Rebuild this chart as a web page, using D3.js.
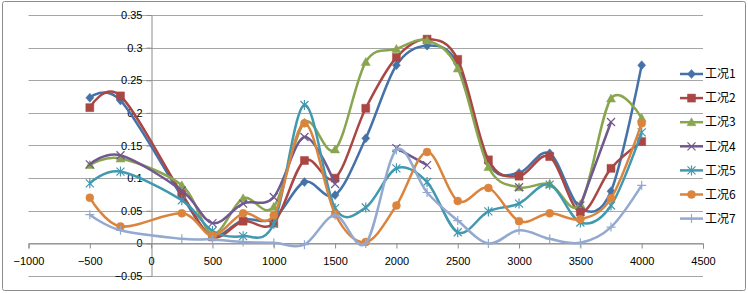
<!DOCTYPE html>
<html>
<head>
<meta charset="utf-8">
<script src="https://cdn.jsdelivr.net/npm/d3@7"></script>
<style>
  body { margin: 0; background: #fff; }
  text { font-family: "Liberation Sans", Arial, sans-serif; font-size: 11px; fill: #000; }
  .legend text { font-family: "Noto Sans CJK SC", sans-serif; font-size: 12px; }
</style>
</head>
<body>
<div id="chart"></div>
<script>
// x positions of the measuring points
const xs = [-500, -250, 250, 500, 750, 1000, 1250, 1500, 1750, 2000, 2250, 2500, 2750, 3000, 3250, 3500, 3750, 4000];

// values per series (null = no data)
const s1 = [0.223, 0.219, 0.072, 0.012, 0.036, 0.038, 0.094, 0.074, 0.161, 0.273, 0.303, 0.275, 0.123, 0.108, 0.138, 0.054, 0.080, 0.273];
const s2 = [0.208, 0.226, 0.076, 0.010, 0.034, 0.031, 0.127, 0.100, 0.207, 0.285, 0.313, 0.282, 0.128, 0.103, 0.133, 0.048, 0.115, 0.156];
const s3 = [0.120, 0.130, 0.089, 0.015, 0.069, 0.056, 0.185, 0.144, 0.278, 0.298, 0.311, 0.268, 0.117, 0.086, 0.091, 0.060, 0.222, 0.192];
const s4 = [0.121, 0.135, 0.081, 0.031, 0.061, 0.071, 0.163, 0.091, null, 0.146, 0.120, null, null, 0.086, null, 0.058, 0.186, null];
const s5 = [0.092, 0.110, 0.066, 0.019, 0.011, 0.030, 0.212, 0.054, 0.055, 0.115, 0.094, 0.017, 0.049, 0.061, 0.090, 0.032, 0.058, 0.170];
const s6 = [0.070, 0.026, 0.046, 0.012, 0.046, 0.043, 0.184, 0.045, 0.002, 0.058, 0.140, 0.065, 0.085, 0.034, 0.046, 0.037, 0.069, 0.184];
const s7 = [0.044, 0.020, 0.007, 0.006, 0.002, 0.001, -0.002, 0.043, 0.000, 0.143, 0.078, 0.035, 0.000, 0.020, 0.007, 0.001, 0.025, 0.089];

const names = ["工况1", "工况2", "工况3", "工况4", "工况5", "工况6", "工况7"];
const values = [s1, s2, s3, s4, s5, s6, s7];
const colors = ["#4572A7", "#AA4643", "#89A54E", "#71588F", "#4198AF", "#DB843D", "#93A9CF"];
const markers = ["diamond", "square", "triangle", "x", "star", "circle", "plus"];

const xTicks = [-1000, -500, 0, 500, 1000, 1500, 2000, 2500, 3000, 3500, 4000, 4500];
const yTicks = [-0.05, 0, 0.05, 0.1, 0.15, 0.2, 0.25, 0.3, 0.35];

const W = 748, H = 293;
const svg = d3.select("#chart").append("svg").attr("width", W).attr("height", H);

// outer chart border
svg.append("rect").attr("x", 2.5).attr("y", 1.5).attr("width", 743).attr("height", 289)
  .attr("fill", "#fff").attr("stroke", "#8c8c8c").attr("rx", 2);

const x = d3.scaleLinear().domain([-1000, 4500]).range([28.5, 703]);
const y = d3.scaleLinear().domain([-0.05, 0.35]).range([276, 15]);

// gridlines
svg.append("g").selectAll("line").data(yTicks).join("line")
  .attr("x1", x(-1000)).attr("x2", x(4500))
  .attr("y1", d => Math.round(y(d)) + 0.5).attr("y2", d => Math.round(y(d)) + 0.5)
  .attr("stroke", "#a6a6a6").attr("stroke-width", 1.2);

// y axis at x = 0
const yAxis = svg.append("g").attr("transform", `translate(${Math.round(x(0)) + 0.5},0)`)
  .call(d3.axisLeft(y).tickValues(yTicks).tickSize(5).tickPadding(4)
    .tickFormat(d => d3.format("~g")(+d.toFixed(2))));
yAxis.select(".domain").attr("stroke", "#8c8c8c");
yAxis.selectAll(".tick line").attr("stroke", "#8c8c8c");
yAxis.selectAll("text").style("font-size", "11px");

// x axis at y = 0
const xAxis = svg.append("g").attr("transform", `translate(0,${Math.round(y(0)) + 0.5})`)
  .call(d3.axisBottom(x).tickValues(xTicks).tickSize(5).tickPadding(9).tickFormat(d3.format("d")));
xAxis.select(".domain").attr("stroke", "#8c8c8c");
xAxis.selectAll(".tick line").attr("stroke", "#8c8c8c");
xAxis.selectAll("text").style("font-size", "11px");

// marker shapes
function markerPath(type) {
  switch (type) {
    case "diamond": return "M0,-4.5L4,0L0,4.5L-4,0Z";
    case "square": return "M-4,-4H4V4H-4Z";
    case "triangle": return "M0,-4.5L4.5,3.5H-4.5Z";
    case "circle": return d3.symbol(d3.symbolCircle, 50)();
    case "x": return "M-4,-4L4,4M4,-4L-4,4";
    case "star": return "M-4,-4L4,4M4,-4L-4,4M0,-5V5";
    case "plus": return "M-4.5,0H4.5M0,-4.5V4.5";
  }
}
const stroked = t => t === "x" || t === "star" || t === "plus";

const line = d3.line()
  .defined(d => d.v !== null)
  .x(d => x(d.x)).y(d => y(d.v))
  .curve(d3.curveCatmullRom.alpha(0));

const plot = svg.append("g");
values.forEach((vals, i) => {
  const pts = xs.map((xv, j) => ({ x: xv, v: vals[j] }));
  const g = plot.append("g");
  g.append("path").datum(pts).attr("d", line)
    .attr("fill", "none").attr("stroke", colors[i]).attr("stroke-width", 2.5)
    .attr("stroke-linejoin", "round");
  g.selectAll("path.m").data(pts.filter(d => d.v !== null)).join("path")
    .attr("class", "m")
    .attr("transform", d => `translate(${x(d.x)},${y(d.v)})`)
    .attr("d", markerPath(markers[i]))
    .attr("fill", stroked(markers[i]) ? "none" : colors[i])
    .attr("stroke", colors[i]).attr("stroke-width", stroked(markers[i]) ? 1.2 : 0.5);
});

// legend
const legend = svg.append("g").attr("class", "legend");
names.forEach((n, i) => {
  const ly = 74 + i * 24.1;
  const lg = legend.append("g").attr("transform", `translate(680,${ly})`);
  lg.append("line").attr("x1", 0).attr("x2", 23).attr("stroke", colors[i]).attr("stroke-width", 2.5);
  lg.append("path").attr("transform", "translate(11.5,0)").attr("d", markerPath(markers[i]))
    .attr("fill", stroked(markers[i]) ? "none" : colors[i])
    .attr("stroke", colors[i]).attr("stroke-width", stroked(markers[i]) ? 1.2 : 0.5);
  lg.append("text").attr("x", 25).attr("dy", "0.35em").text(n);
});
</script>
</body>
</html>
